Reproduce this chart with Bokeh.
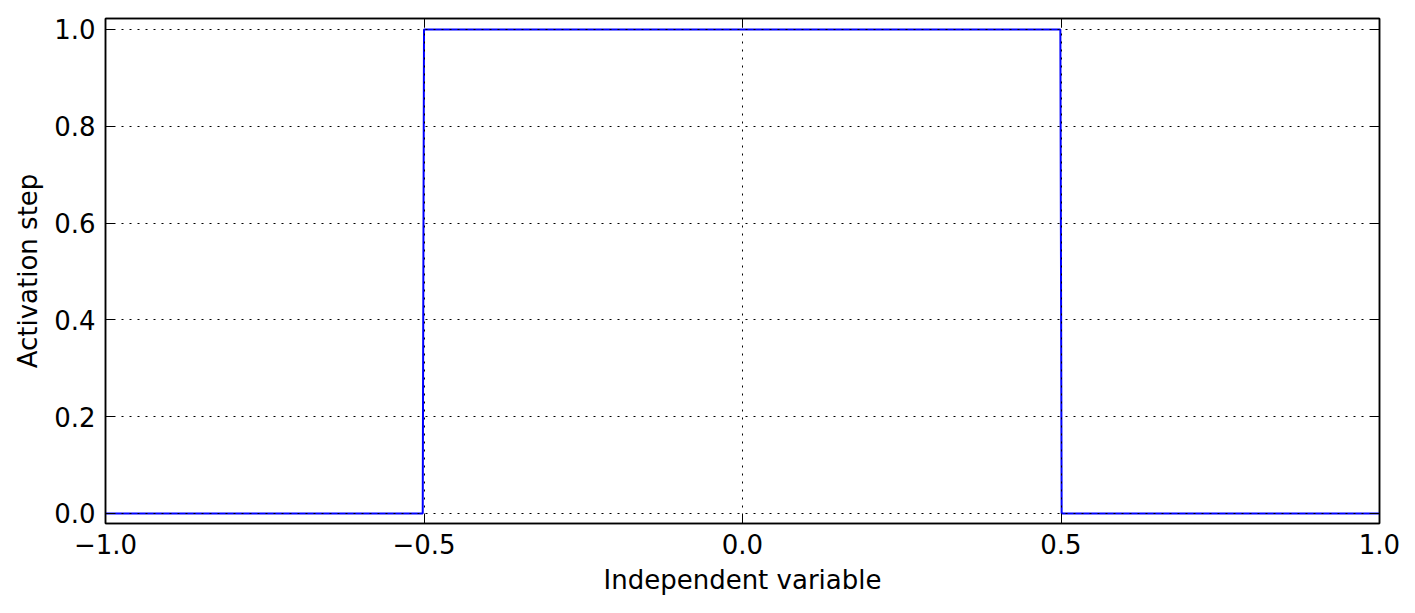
from bokeh.plotting import figure
from bokeh.models import LinearAxis, FixedTicker, Range1d
from bokeh.embed import file_html
from bokeh.resources import INLINE

# data
x_vals = [-1.0, -0.502, -0.500, 0.499, 0.501, 1.0]
y_vals = [0.0, 0.0, 1.0, 1.0, 0.0, 0.0]
x_ticks = [-1.0, -0.5, 0.0, 0.5, 1.0]
x_tick_labels = ["\u22121.0", "\u22120.5", "0.0", "0.5", "1.0"]
y_ticks = [0.0, 0.2, 0.4, 0.6, 0.8, 1.0]
y_tick_labels = ["0.0", "0.2", "0.4", "0.6", "0.8", "1.0"]
x_label = "Independent variable"
y_label = "Activation step"

FONT = "DejaVu Sans"
FS = "26px"

p = figure(width=1407, height=605, output_backend="svg", toolbar_location=None,
           x_range=Range1d(-1.0, 1.0), y_range=Range1d(-0.0207, 1.0227),
           min_border_left=105, min_border_right=28, min_border_top=18, min_border_bottom=82,
           x_axis_location=None, y_axis_location=None)
p.background_fill_color = "white"
p.border_fill_color = "white"
p.outline_line_color = "black"
p.outline_line_width = 1.5

p.line(x_vals, y_vals, line_color="#0000ff", line_width=2)

def style_axis(ax, ticks, labels, show_labels):
    ax.ticker = FixedTicker(ticks=ticks)
    ax.major_tick_in = 9
    ax.major_tick_out = 0
    ax.minor_tick_in = 0
    ax.minor_tick_out = 0
    ax.major_tick_line_color = "black"
    ax.major_tick_line_width = 1
    ax.axis_line_color = "black"
    ax.axis_line_width = 1.5
    ax.major_label_text_font = FONT
    ax.major_label_text_font_size = FS
    ax.major_label_text_color = "black"
    ax.axis_label_text_font = FONT
    ax.axis_label_text_font_size = FS
    ax.axis_label_text_font_style = "normal"
    ax.axis_label_text_color = "black"
    if show_labels:
        ax.major_label_overrides = {t: l for t, l in zip(ticks, labels)}
        ax.major_label_standoff = 10
    else:
        ax.major_label_overrides = {t: "" for t in ticks}
        ax.major_label_standoff = 0

xb = LinearAxis(axis_label=x_label)
style_axis(xb, x_ticks, x_tick_labels, True)
xb.axis_label_standoff = 8
p.add_layout(xb, "below")

xt = LinearAxis()
style_axis(xt, x_ticks, x_tick_labels, False)
p.add_layout(xt, "above")

yl = LinearAxis(axis_label=y_label)
style_axis(yl, y_ticks, y_tick_labels, True)
yl.axis_label_standoff = 8
p.add_layout(yl, "left")

yr = LinearAxis()
style_axis(yr, y_ticks, y_tick_labels, False)
p.add_layout(yr, "right")

p.xgrid.ticker = FixedTicker(ticks=x_ticks)
p.ygrid.ticker = FixedTicker(ticks=y_ticks)
for g in (p.xgrid, p.ygrid):
    g.grid_line_color = "black"
    g.grid_line_width = 1
    g.grid_line_dash = "2 6"
    g.level = "overlay"

open("out.html", "w").write(file_html(p, INLINE))
